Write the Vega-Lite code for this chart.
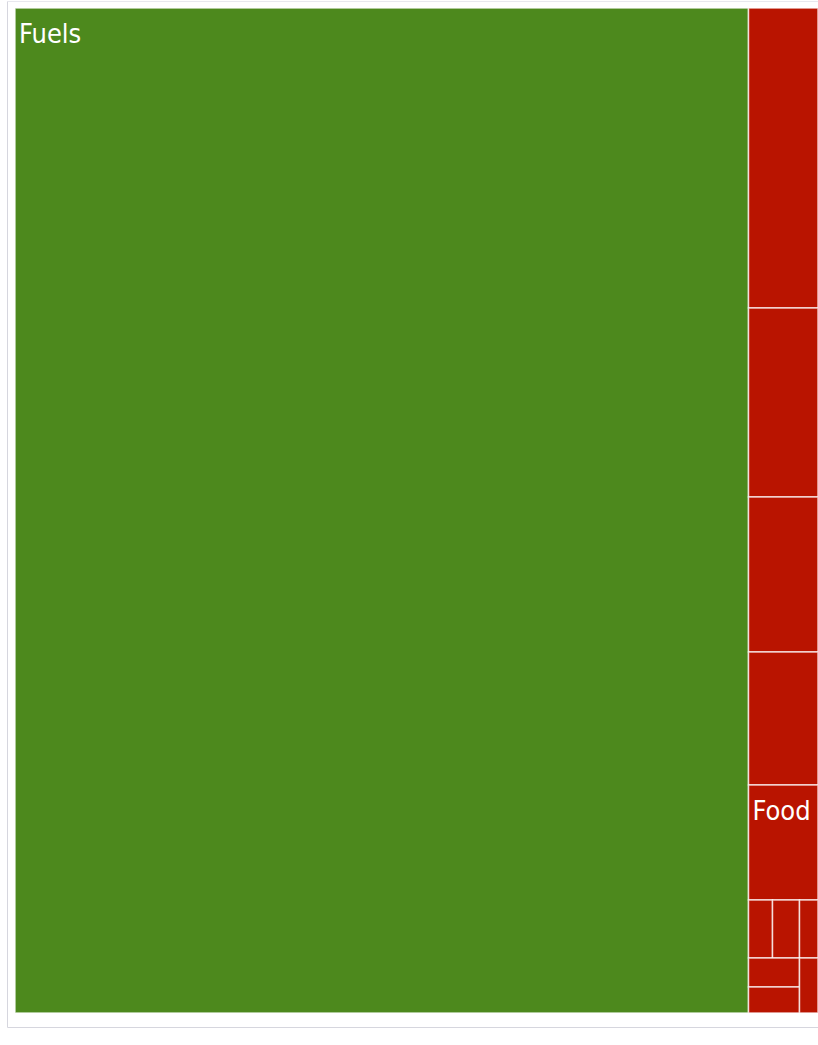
{
  "$schema": "https://vega.github.io/schema/vega-lite/v6.json",
  "width": 811,
  "height": 1026,
  "autosize": {"type": "none"},
  "padding": {"left": 7, "top": 1, "right": 0, "bottom": 18},
  "background": "#ffffff",
  "config": {"view": {"stroke": null}},
  "data": {
    "values": [
      {"group": "Fuels", "band": "Fuels", "col": "Fuels", "cell": "Fuels", "label": "Fuels", "value": 737168},
      {"group": "Food", "band": "F1", "col": "F1", "cell": "F1", "label": "", "value": 20850},
      {"group": "Food", "band": "F2", "col": "F2", "cell": "F2", "label": "", "value": 13136},
      {"group": "Food", "band": "F3", "col": "F3", "cell": "F3", "label": "", "value": 10773},
      {"group": "Food", "band": "F4", "col": "F4", "cell": "F4", "label": "", "value": 9244},
      {"group": "Food", "band": "F5", "col": "F5", "cell": "F5", "label": "Food", "value": 7993},
      {"group": "Food", "band": "F6", "col": "F6a", "cell": "F6a", "label": "", "value": 1392},
      {"group": "Food", "band": "F6", "col": "F6b", "cell": "F6b", "label": "", "value": 1566},
      {"group": "Food", "band": "F6", "col": "F6c", "cell": "F6c", "label": "", "value": 1073},
      {"group": "Food", "band": "F7", "col": "F7a", "cell": "F7a", "label": "", "value": 1479},
      {"group": "Food", "band": "F7", "col": "F7a", "cell": "F7b", "label": "", "value": 1326},
      {"group": "Food", "band": "F7", "col": "F7c", "cell": "F7c", "label": "", "value": 1018}
    ]
  },
  "transform": [
    {"window": [{"op": "row_number", "as": "i"}]},
    {"joinaggregate": [{"op": "sum", "field": "value", "as": "total"}]},
    {"joinaggregate": [{"op": "sum", "field": "value", "as": "gSum"}, {"op": "min", "field": "i", "as": "gI"}], "groupby": ["group"]},
    {"joinaggregate": [{"op": "sum", "field": "value", "as": "bSum"}, {"op": "min", "field": "i", "as": "bI"}], "groupby": ["group", "band"]},
    {"joinaggregate": [{"op": "sum", "field": "value", "as": "cSum"}, {"op": "min", "field": "i", "as": "cI"}], "groupby": ["group", "band", "col"]},
    {"window": [{"op": "sum", "field": "value", "as": "gEnd"}], "sort": [{"field": "gI"}]},
    {"window": [{"op": "sum", "field": "value", "as": "bEnd"}], "sort": [{"field": "bI"}], "groupby": ["group"]},
    {"window": [{"op": "sum", "field": "value", "as": "cEnd"}], "sort": [{"field": "cI"}], "groupby": ["group", "band"]},
    {"window": [{"op": "sum", "field": "value", "as": "kEnd"}], "sort": [{"field": "i"}], "groupby": ["group", "band", "col"]},
    {"calculate": "(datum.gEnd - datum.gSum) / datum.total", "as": "gx0"},
    {"calculate": "datum.gEnd / datum.total", "as": "gx1"},
    {"calculate": "(datum.bEnd - datum.bSum) / datum.gSum", "as": "by0"},
    {"calculate": "datum.bEnd / datum.gSum", "as": "by1"},
    {"calculate": "datum.gx0 + (datum.gx1 - datum.gx0) * (datum.cEnd - datum.cSum) / datum.bSum", "as": "x0"},
    {"calculate": "datum.gx0 + (datum.gx1 - datum.gx0) * datum.cEnd / datum.bSum", "as": "x1"},
    {"calculate": "datum.by0 + (datum.by1 - datum.by0) * (datum.kEnd - datum.value) / datum.cSum", "as": "y0"},
    {"calculate": "datum.by0 + (datum.by1 - datum.by0) * datum.kEnd / datum.cSum", "as": "y1"}
  ],
  "resolve": {"axis": {"x": "independent"}},
  "layer": [
    {
      "mark": {"type": "rect", "stroke": "#ffffff", "strokeWidth": 1.5, "strokeOpacity": 0.75},
      "encoding": {
        "x": {
          "field": "x0", "type": "quantitative",
          "scale": {"domain": [-0.009963, 1], "nice": false, "zero": false},
          "axis": {"orient": "bottom", "domain": true, "domainColor": "#d6d6de", "ticks": false, "labels": false, "grid": false, "title": null}
        },
        "x2": {"field": "x1"},
        "y": {
          "field": "y0", "type": "quantitative",
          "scale": {"domain": [-0.006965, 1.01393], "nice": false, "zero": false, "reverse": true},
          "axis": {"domain": true, "domainColor": "#d6d6de", "ticks": false, "labels": false, "grid": false, "title": null}
        },
        "y2": {"field": "y1"},
        "color": {
          "field": "group", "type": "nominal",
          "scale": {"domain": ["Fuels", "Food"], "range": ["#4d891d", "#b91400"]},
          "legend": null
        }
      }
    },
    {
      "transform": [{"filter": "datum.label != ''"}],
      "mark": {
        "type": "text", "align": "left", "baseline": "alphabetic", "dx": 4, "dy": 35,
        "font": "DejaVu Sans Condensed, Roboto, sans-serif",
        "fontSize": 27, "color": "#ffffff"
      },
      "encoding": {
        "x": {
          "field": "x0", "type": "quantitative",
          "axis": {"orient": "top", "domain": true, "domainColor": "#e8e8ee", "ticks": false, "labels": false, "grid": false, "title": null}
        },
        "y": {"field": "y0", "type": "quantitative"},
        "text": {"field": "label"}
      }
    }
  ]
}
